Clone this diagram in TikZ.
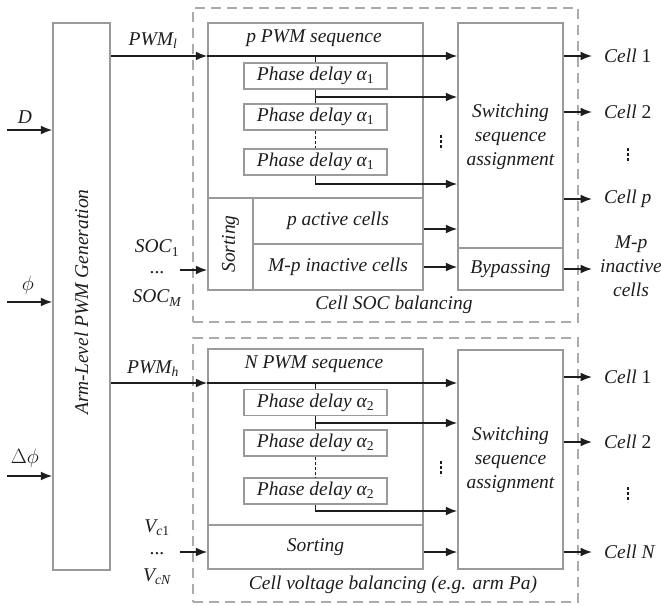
\documentclass[tikz,border=0pt]{standalone}
\usepackage{fontspec}
\setmainfont{Liberation Serif}
\usetikzlibrary{arrows.meta}

\definecolor{boxgray}{HTML}{9A9A9A}
\definecolor{dashgray}{HTML}{ABABAB}
\definecolor{ink}{HTML}{1E1C1D}

\tikzset{
  lblfont/.style={text=ink, font=\fontsize{19.5}{24}\selectfont\itshape},
  blk/.style={draw=boxgray, line width=1.5pt, inner sep=0pt, lblfont},
  grp/.style={draw=dashgray, line width=1.5pt, dash pattern=on 10pt off 6pt},
  txt/.style={inner sep=0pt, lblfont},
  arr/.style={draw=ink, line width=1.7pt, -{Latex[length=11.5pt,width=9pt]}},
  wire/.style={draw=ink, line width=1.7pt},
  vdots/.style={draw=ink, line width=1.8pt, dash pattern=on 3pt off 2pt},
}

\begin{document}
\begin{tikzpicture}[x=1pt, y=-1pt]
\useasboundingbox (0,0) rectangle (661,605);

% ---------- arm-level PWM generator ----------
\node[blk, minimum width=57pt, minimum height=547pt] (gen) at (81.5,296.5) {};
\node[txt, rotate=90] (genlbl) at (81.5,302) {Arm-Level PWM Generation};

\coordinate (inD)   at (7,130);
\coordinate (inPhi) at (7,302);
\coordinate (inDph) at (7,476);
\draw[arr] (inD)   -- (gen.west |- inD);
\draw[arr] (inPhi) -- (gen.west |- inPhi);
\draw[arr] (inDph) -- (gen.west |- inDph);
\node[txt] (lblD)   at (25,117) {D};
\node[txt] (lblPhi) at (28,285) {$\phi$};
\node[txt] (lblDph) at (25,458) {$\Delta\phi$};

% ---------- cell SOC balancing ----------
\node[grp, minimum width=385pt, minimum height=314pt] (grpA) at (385.5,165) {};
\node[txt] (grpAlbl) at (394,305) {Cell SOC balancing};

\node[blk, minimum width=215pt, minimum height=175pt] (pseq) at (315.5,110.5) {};
\node[txt] (pseqlbl) at (314,38) {p PWM sequence};
\node[blk, minimum width=45pt, minimum height=92pt] (sortA) at (230.5,244) {};
\node[txt, rotate=90] (sortAlbl) at (sortA.center) {Sorting};
\node[blk, minimum width=170pt, minimum height=46pt] (pact) at (338,221) {p active cells};
\node[blk, minimum width=170pt, minimum height=46pt] (minact) at (338,267) {M-p inactive cells};

\node[blk, minimum width=143pt, minimum height=26pt] (pdA1) at (315.5,76) {Phase delay α\textsubscript{\upshape 1}};
\node[blk, minimum width=143pt, minimum height=26pt] (pdA2) at (315.5,117) {Phase delay α\textsubscript{\upshape 1}};
\node[blk, minimum width=143pt, minimum height=26pt] (pdA3) at (315.5,162) {Phase delay α\textsubscript{\upshape 1}};

\node[blk, minimum width=105pt, minimum height=225pt] (swA) at (510.5,135.5) {};
\node[txt, align=center] (swAlbl) at (510.5,137) {Switching\\sequence\\assignment};
\node[blk, minimum width=105pt, minimum height=42pt] (byp) at (510.5,269) {Bypassing};

\coordinate (tapA)  at (315.5,56);
\coordinate (brA1)  at (315.5,97);
\coordinate (brA3)  at (315.5,184);
\draw[arr] (gen.east |- tapA) -- (pseq.west |- tapA);
\draw[arr] (pseq.west |- tapA) -- (swA.west |- tapA);
\node[txt] (lblPWMl) at (153,41) {PWM\textsubscript{l}};
\draw[wire] (tapA) -- (pdA1.north);
\draw[wire] (pdA1.south) -- (pdA2.north);
\draw[arr] (brA1) -- (swA.west |- brA1);
\draw[vdots] (pdA2.south) -- (pdA3.north);
\draw[arr] (pdA3.south) -- (brA3) -- (swA.west |- brA3);
\draw[vdots] (441,135) -- (441,150);

\coordinate (yPact) at (0,229);
\draw[arr] (pact.east |- yPact) -- (swA.west |- yPact);
\draw[arr] (minact.east) -- (byp.west |- minact.east);

\coordinate (inSOC) at (180,270);
\draw[arr] (inSOC) -- (sortA.west |- inSOC);
\node[txt] (lblSOC1) at (157,248) {SOC\textsubscript{\upshape 1}};
\node[txt] (lblSOCd) at (157,273) {\upshape ...};
\node[txt] (lblSOCM) at (157,298) {SOC\textsubscript{M}};

\node[txt, anchor=west] (cellA1) at (604,56)  {Cell {\upshape 1}};
\node[txt, anchor=west] (cellA2) at (604,112) {Cell {\upshape 2}};
\node[txt, anchor=west] (cellAp) at (604,199) {Cell p};
\draw[arr] (swA.east |- cellA1.west) -- ([xshift=-12pt]cellA1.west);
\draw[arr] (swA.east |- cellA2.west) -- ([xshift=-12pt]cellA2.west);
\draw[arr] (swA.east |- cellAp.west) -- ([xshift=-12pt]cellAp.west);
\draw[vdots] (628,148) -- (628,163);
\node[txt, align=center] (inactA) at (631,266) {M-p\\inactive\\cells};
\coordinate (tipByp) at (592,269);
\draw[arr] (byp.east) -- (tipByp);

% ---------- cell voltage balancing ----------
\node[grp, minimum width=385pt, minimum height=264pt] (grpB) at (385.5,470) {};
\node[txt] (grpBlbl) at (393,585) {Cell voltage balancing (e.g. arm Pa)};

\node[blk, minimum width=215pt, minimum height=176pt] (nseq) at (315.5,437) {};
\node[txt] (nseqlbl) at (314,364) {N PWM sequence};
\node[blk, minimum width=215pt, minimum height=44pt] (sortB) at (315.5,547) {Sorting};

\node[blk, minimum width=143pt, minimum height=26pt] (pdB1) at (315.5,402.5) {Phase delay α\textsubscript{\upshape 2}};
\node[blk, minimum width=143pt, minimum height=26pt] (pdB2) at (315.5,443) {Phase delay α\textsubscript{\upshape 2}};
\node[blk, minimum width=143pt, minimum height=26pt] (pdB3) at (315.5,491) {Phase delay α\textsubscript{\upshape 2}};

\node[blk, minimum width=105pt, minimum height=219pt] (swB) at (510.5,459.5) {};
\node[txt, align=center] (swBlbl) at (510.5,460) {Switching\\sequence\\assignment};

\coordinate (tapB)  at (315.5,383);
\coordinate (brB1)  at (315.5,423);
\coordinate (brB3)  at (315.5,511);
\draw[arr] (gen.east |- tapB) -- (nseq.west |- tapB);
\draw[arr] (nseq.west |- tapB) -- (swB.west |- tapB);
\node[txt] (lblPWMh) at (153,369) {PWM\textsubscript{h}};
\draw[wire] (tapB) -- (pdB1.north);
\draw[wire] (pdB1.south) -- (pdB2.north);
\draw[arr] (brB1) -- (swB.west |- brB1);
\draw[vdots] (pdB2.south) -- (pdB3.north);
\draw[arr] (pdB3.south) -- (brB3) -- (swB.west |- brB3);
\draw[vdots] (441,461) -- (441,476);

\coordinate (ySortB) at (0,552);
\draw[arr] (sortB.east |- ySortB) -- (swB.west |- ySortB);

\coordinate (inVc) at (180,552);
\draw[arr] (inVc) -- (sortB.west |- inVc);
\node[txt] (lblVc1) at (157,528) {V\textsubscript{c\upshape 1}};
\node[txt] (lblVcd) at (157,554) {\upshape ...};
\node[txt] (lblVcN) at (157,577) {V\textsubscript{cN}};

\node[txt, anchor=west] (cellB1) at (604,377) {Cell {\upshape 1}};
\node[txt, anchor=west] (cellB2) at (604,442) {Cell {\upshape 2}};
\node[txt, anchor=west] (cellBN) at (604,552) {Cell N};
\draw[arr] (swB.east |- cellB1.west) -- ([xshift=-12pt]cellB1.west);
\draw[arr] (swB.east |- cellB2.west) -- ([xshift=-12pt]cellB2.west);
\draw[arr] (swB.east |- cellBN.west) -- ([xshift=-12pt]cellBN.west);
\draw[vdots] (628,487) -- (628,502);
\end{tikzpicture}
\end{document}
